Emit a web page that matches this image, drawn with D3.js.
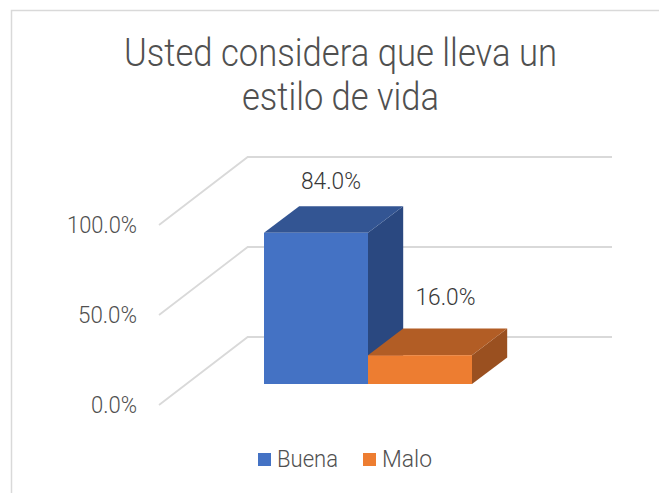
<!DOCTYPE html>
<html><head><meta charset="utf-8">
<script src="https://cdn.jsdelivr.net/npm/d3@7"></script>
<style>html,body{margin:0;padding:0;background:#fff}svg{display:block}text{font-family:Roboto,"Liberation Sans",sans-serif;font-weight:300}</style>
</head><body><svg id="c" width="659" height="493"></svg>
<script>
const titleLines = ["Usted considera que lleva un","estilo de vida"];
const categories = ["Buena","Malo"];
const values = [84,16];
const valueLabels = ["84.0%","16.0%"];
const axisTicks = [0,50,100];
const tickLabels = ["0.0%","50.0%","100.0%"];
const frontColors = ["#4472c4","#ed7d31"];
const topColors = ["#335593","#b25d25"];
const sideColors = ["#2a4880","#9a5020"];

const svg = d3.select("#c");
const y = d3.scaleLinear().domain([0,100]).range([405,225]);
const x = d3.scaleBand().domain(categories).range([264,472]).padding(0);

// fits a text to the width it has in the reference (the original face is narrower)
function label(px,py,str,size,width,fill,anchor){
  const left = anchor==="end" ? px-width : anchor==="middle" ? px-width/2 : px;
  return svg.append("text").attr("x",left).attr("y",py).attr("font-size",size).attr("fill",fill)
    .attr("textLength",width).attr("lengthAdjust","spacingAndGlyphs").text(str);
}

// chart frame
svg.append("path").attr("d","M11.5,493V10.5H659").attr("fill","none").attr("stroke","#d9d9d9").attr("stroke-width",1.5);

// title
const titleWidths = [433,197];
titleLines.forEach((d,i)=>label(340.5,65.5+i*44,d,38,titleWidths[i],"#505050","middle"));

// 3D walls: gridlines
const wall = {dx:88.7, dy:-68, right:612};
const tickWidths = [46,59,70];
axisTicks.forEach((t,i)=>{
  const yy=y(t);
  svg.append("path").attr("d",`M159,${yy}L${159+wall.dx},${yy+wall.dy}H${wall.right}`)
    .attr("fill","none").attr("stroke","#d9d9d9").attr("stroke-width",1.8);
  label(137,yy+8,tickLabels[i],24,tickWidths[i],"#505050","end");
});

// bars, left to right: the orange top covers the foot of the blue side
const depth = {dx:35.2, dy:-26.6};
const baseY = 384, zeroShift = y(0)-baseY;
const barY = v => y(v)-zeroShift;
categories.forEach((c,i)=>{
  const x0=x(c), x1=x0+x.bandwidth(), t=barY(values[i]), b=barY(0), d=depth;
  svg.append("path").attr("d",`M${x1},${t}L${x1+d.dx},${t+d.dy}V${b+d.dy}L${x1},${b}Z`).attr("fill",sideColors[i]);
  svg.append("path").attr("d",`M${x0},${t}L${x0+d.dx},${t+d.dy}H${x1+d.dx}L${x1},${t}Z`).attr("fill",topColors[i]);
  svg.append("rect").attr("x",x0).attr("y",t).attr("width",x.bandwidth()).attr("height",b-t).attr("fill",frontColors[i]);
});

// value labels
const labelOffsets = [[15,-44],[25.5,-50]];
valueLabels.forEach((l,i)=>{
  const c=categories[i];
  label(x(c)+x.bandwidth()/2+labelOffsets[i][0],barY(values[i])+labelOffsets[i][1],l,24,60,"#383838","middle");
});

// legend
const legendStart=[258,363], legendWidths=[61,50];
categories.forEach((c,i)=>{
  svg.append("rect").attr("x",legendStart[i]).attr("y",453).attr("width",13).attr("height",13).attr("fill",frontColors[i]);
  label(legendStart[i]+19,466.5,c,23,legendWidths[i],"#505050","start");
});
</script></body></html>
